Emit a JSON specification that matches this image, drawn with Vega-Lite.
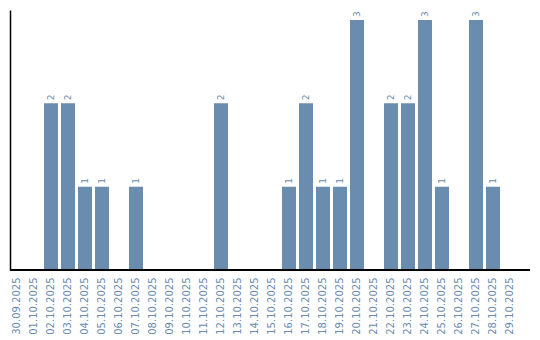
{
  "$schema": "https://vega.github.io/schema/vega-lite/v6.json",
  "width": 520,
  "height": 260,
  "autosize": "none",
  "padding": {"left": 10, "top": 10, "right": 10, "bottom": 70},
  "config": {"view": {"stroke": null}, "font": "DejaVu Sans"},
  "data": {"values": [
    {"date": "30.09.2025", "count": 0},
    {"date": "01.10.2025", "count": 0},
    {"date": "02.10.2025", "count": 2},
    {"date": "03.10.2025", "count": 2},
    {"date": "04.10.2025", "count": 1},
    {"date": "05.10.2025", "count": 1},
    {"date": "06.10.2025", "count": 0},
    {"date": "07.10.2025", "count": 1},
    {"date": "08.10.2025", "count": 0},
    {"date": "09.10.2025", "count": 0},
    {"date": "10.10.2025", "count": 0},
    {"date": "11.10.2025", "count": 0},
    {"date": "12.10.2025", "count": 2},
    {"date": "13.10.2025", "count": 0},
    {"date": "14.10.2025", "count": 0},
    {"date": "15.10.2025", "count": 0},
    {"date": "16.10.2025", "count": 1},
    {"date": "17.10.2025", "count": 2},
    {"date": "18.10.2025", "count": 1},
    {"date": "19.10.2025", "count": 1},
    {"date": "20.10.2025", "count": 3},
    {"date": "21.10.2025", "count": 0},
    {"date": "22.10.2025", "count": 2},
    {"date": "23.10.2025", "count": 2},
    {"date": "24.10.2025", "count": 3},
    {"date": "25.10.2025", "count": 1},
    {"date": "26.10.2025", "count": 0},
    {"date": "27.10.2025", "count": 3},
    {"date": "28.10.2025", "count": 1},
    {"date": "29.10.2025", "count": 0}
  ]},
  "encoding": {
    "x": {
      "field": "date", "type": "ordinal", "sort": null,
      "scale": {"range": [0, 507], "paddingInner": 0.176, "paddingOuter": 0},
      "axis": {"title": null, "domain": false, "ticks": false, "labelAngle": -90, "labelPadding": 7, "labelFontSize": 10, "labelColor": "#6a8caf", "labelFont": "DejaVu Sans"}
    },
    "y": {
      "field": "count", "type": "quantitative",
      "scale": {"domain": [0, 3.12], "nice": false},
      "axis": {"title": null, "labels": false, "ticks": false, "grid": false, "domain": true, "domainColor": "#000000", "domainWidth": 1.5}
    }
  },
  "layer": [
    {"mark": {"type": "bar", "color": "#6a8caf"}},
    {
      "transform": [{"filter": "datum.count > 0"}],
      "mark": {"type": "text", "angle": 270, "align": "left", "baseline": "middle", "dx": 3, "fontSize": 9, "color": "#6a8caf", "font": "DejaVu Sans"},
      "encoding": {"text": {"field": "count", "type": "quantitative"}}
    },
    {
      "mark": {"type": "rule", "color": "#000000", "strokeWidth": 1.5},
      "encoding": {"x": null, "y": {"datum": 0}}
    }
  ]
}
